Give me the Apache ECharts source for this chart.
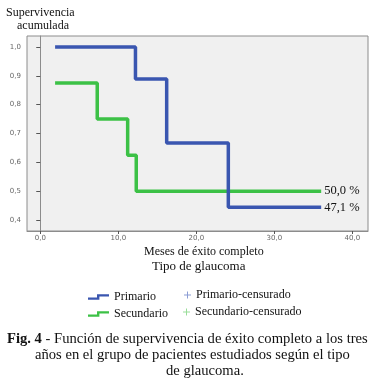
<!DOCTYPE html>
<html>
<head>
<meta charset="utf-8">
<script src="https://cdn.jsdelivr.net/npm/echarts@6/dist/echarts.min.js"></script>
<style>html,body{margin:0;padding:0;background:#fff;}#c{width:376px;height:388px;}</style>
</head>
<body>
<div id="c"></div>
<script>
// Data
var primarioTimes = [1.9, 12.2, 16.2, 24.1, 36.0];
var primarioSurv  = [1.0, 0.889, 0.667, 0.444, 0.444];
var secundarioTimes = [1.9, 7.3, 11.2, 12.3, 36.0];
var secundarioSurv  = [0.875, 0.75, 0.625, 0.5, 0.5];
var xTicks = [0, 10, 20, 30, 40];
var yTicks = [0.4, 0.5, 0.6, 0.7, 0.8, 0.9, 1.0];
var endLabels = ['47,1 %', '50,0 %'];
var seriesNames = ['Primario', 'Secundario', 'Primario-censurado', 'Secundario-censurado'];

function pairs(xs, ys) { return xs.map(function (x, i) { return [x, ys[i]]; }); }
function fmt(v) { return v.toFixed(1).replace('.', ','); }

var SERIF = '"Liberation Serif", "DejaVu Serif", serif';
var BLUE = '#3a56b0', GREEN = '#3cc146';
var stepIcon = 'path://M0,3.2 L9,3.2 L9,0 L21,0 L21,2.4 L11.4,2.4 L11.4,5.6 L0,5.6 Z';
var plusIcon = 'path://M3,0 L4,0 L4,3 L7,3 L7,4 L4,4 L4,7 L3,7 L3,4 L0,4 L0,3 L3,3 Z';

var chart = echarts.init(document.getElementById('c'), null, {renderer: 'canvas'});
function legendAt(name, icon, left, top, w, h) {
  return {
    left: left, top: top, orient: 'horizontal', padding: 0, itemGap: 0,
    itemWidth: w, itemHeight: h, selectedMode: false,
    data: [{name: name, icon: icon}],
    itemStyle: {borderWidth: 0},
    textStyle: {fontFamily: SERIF, fontSize: 12, color: '#111'}
  };
}
chart.setOption({
  animation: false,
  grid: {left: 27, top: 36, right: 8, bottom: 157, show: true,
    backgroundColor: '#f0f0f0', borderColor: '#8c8c8c', borderWidth: 1},
  xAxis: {
    type: 'value', min: -1.7, max: 42.0,
    splitLine: {show: false},
    axisLine: {show: true, lineStyle: {color: '#8c8c8c'}},
    axisTick: {show: true, customValues: xTicks, length: 3, inside: false, lineStyle: {color: '#555'}},
    axisLabel: {customValues: xTicks, formatter: fmt, fontSize: 7, color: '#666', margin: 4, fontFamily: 'DejaVu Sans'}
  },
  yAxis: {
    type: 'value', min: 0.362, max: 1.038,
    splitLine: {show: false},
    axisLine: {show: true, lineStyle: {color: '#8c8c8c'}},
    axisTick: {show: true, customValues: yTicks, length: 4, lineStyle: {color: '#555'}},
    axisLabel: {customValues: yTicks, formatter: fmt, fontSize: 7, color: '#666', margin: 6, fontFamily: 'DejaVu Sans'}
  },
  legend: [
    legendAt(seriesNames[0], stepIcon, 88, 291, 21, 5.6),
    legendAt(seriesNames[2], plusIcon, 184, 289, 7, 7),
    legendAt(seriesNames[1], stepIcon, 88, 308, 21, 5.6),
    legendAt(seriesNames[3], plusIcon, 183, 306, 7, 7)
  ],
  series: [
    {name: seriesNames[0], type: 'line', step: 'end', data: pairs(primarioTimes, primarioSurv),
      showSymbol: false, color: BLUE, lineStyle: {width: 3.5, color: BLUE}, z: 3,
      endLabel: {show: true, formatter: endLabels[0], fontFamily: SERIF, fontSize: 12.5, color: '#111', distance: 3}},
    {name: seriesNames[1], type: 'line', step: 'end', data: pairs(secundarioTimes, secundarioSurv),
      showSymbol: false, color: GREEN, lineStyle: {width: 3.5, color: GREEN}, z: 2,
      endLabel: {show: true, formatter: endLabels[1], fontFamily: SERIF, fontSize: 12.5, color: '#111', distance: 3}},
    {name: seriesNames[2], type: 'scatter', data: [], color: '#6f85c9', symbol: plusIcon},
    {name: seriesNames[3], type: 'scatter', data: [], color: '#7fd47f', symbol: plusIcon}
  ],
  graphic: [
    {type: 'text', left: 6, top: 6.5, style: {text: 'Supervivencia', font: '12px ' + SERIF, fill: '#111'}},
    {type: 'text', left: 17, top: 20, style: {text: 'acumulada', font: '12px ' + SERIF, fill: '#111'}},
    {type: 'text', left: 144, top: 246, style: {text: 'Meses de éxito completo', font: '12px ' + SERIF, fill: '#111'}},
    {type: 'text', left: 152, top: 260, style: {text: 'Tipo de glaucoma', font: '13px ' + SERIF, fill: '#111'}},
    {type: 'text', left: 7, top: 332, style: {
      text: '{b|Fig. 4} - Función de supervivencia de éxito completo a los tres',
      font: '14.6px ' + SERIF, fill: '#111',
      rich: {b: {fontWeight: 'bold', fontFamily: SERIF, fontSize: 14.6, fill: '#111'}}}},
    {type: 'text', left: 35, top: 348, style: {text: 'años en el grupo de pacientes estudiados según el tipo', font: '14.6px ' + SERIF, fill: '#111'}},
    {type: 'text', left: 166, top: 364, style: {text: 'de glaucoma.', font: '14.6px ' + SERIF, fill: '#111'}}
  ]
});
</script>
</body>
</html>
